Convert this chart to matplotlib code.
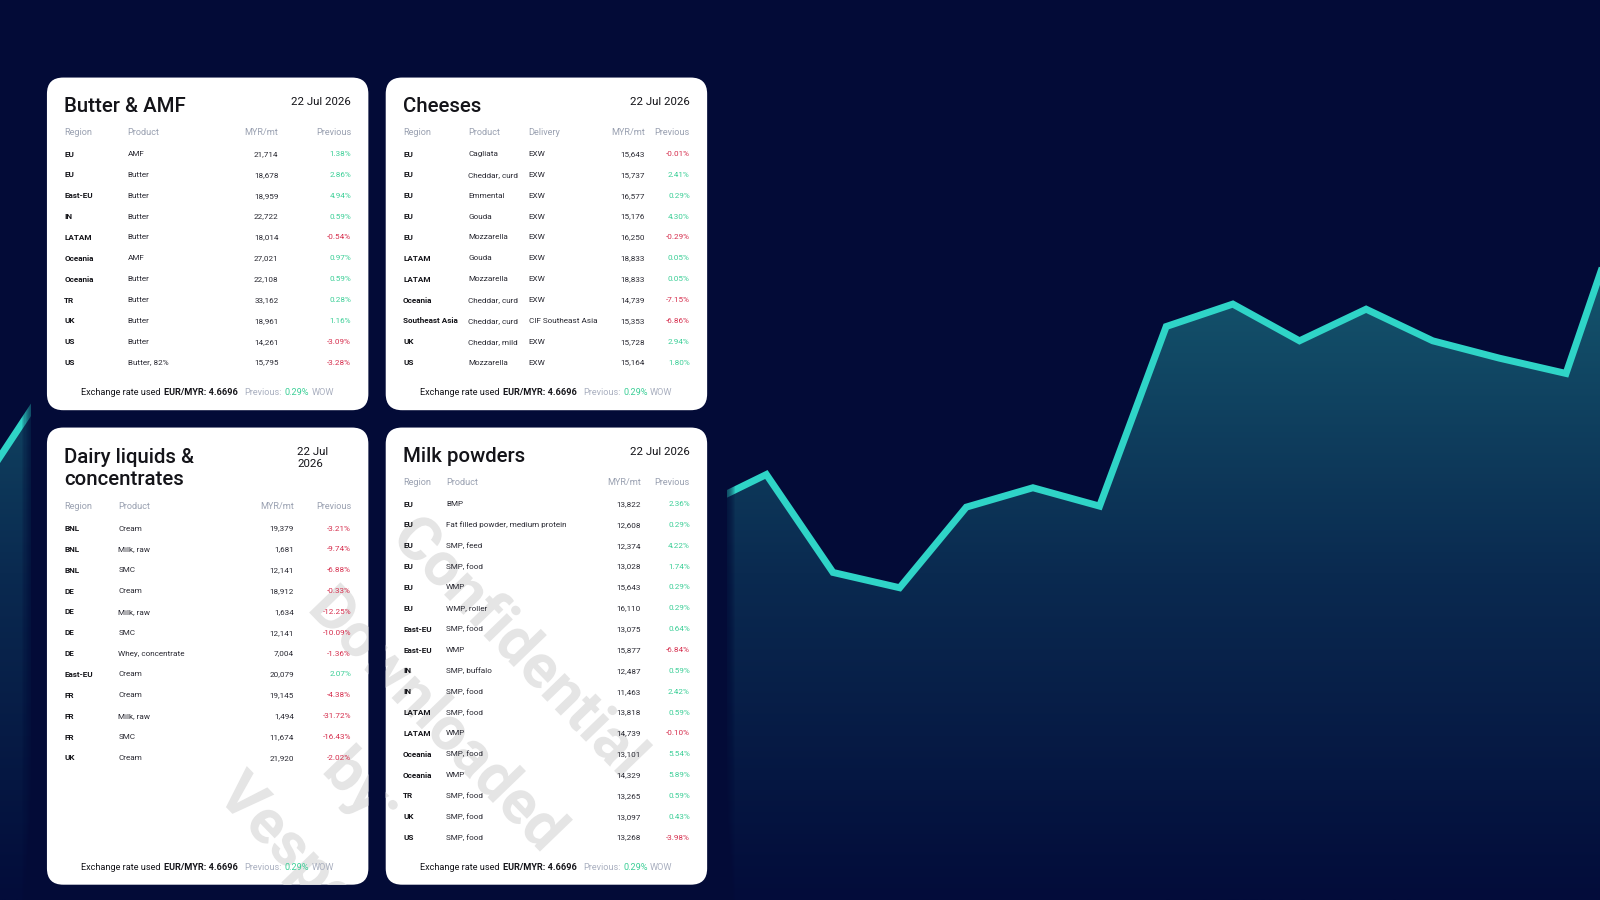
import numpy as np
import matplotlib.pyplot as plt
from matplotlib.patches import FancyBboxPatch, Polygon, Rectangle, PathPatch
from matplotlib.colors import LinearSegmentedColormap
from matplotlib.textpath import TextPath
from matplotlib.font_manager import FontProperties
from matplotlib.transforms import Affine2D

plt.rcParams['font.family'] = ['Roboto', 'DejaVu Sans']

BG = '#030b37'
TEAL = '#2fd4c7'
GREEN = '#3ccf97'
RED = '#d62f4e'
GREY = '#9aa1b1'
LIGHT = '#aab0c0'
INK = '#141419'

DATE = '22 Jul 2026'
FX_RATE = 4.6696
FX_CHANGE = 0.29

# background trend (hidden stretch behind the cards left as NaN)
trend_idx = np.arange(26)
trend_vals = [385, 484] + [np.nan] * 9 + [385, 417, 321, 306, 385, 404, 386, 562,
                                          584, 548, 579, 548, 531, 516, 707]

butter_regions = ['EU', 'EU', 'East-EU', 'IN', 'LATAM', 'Oceania', 'Oceania', 'TR', 'UK', 'US', 'US']
butter_products = ['AMF', 'Butter', 'Butter', 'Butter', 'Butter', 'AMF', 'Butter', 'Butter',
                   'Butter', 'Butter', 'Butter, 82%']
butter_prices = [21714, 18678, 18959, 22722, 18014, 27021, 22108, 33162, 18961, 14261, 15795]
butter_changes = [1.38, 2.86, 4.94, 0.59, -0.54, 0.97, 0.59, 0.28, 1.16, -3.09, -3.28]

cheese_regions = ['EU', 'EU', 'EU', 'EU', 'EU', 'LATAM', 'LATAM', 'Oceania', 'Southeast Asia', 'UK', 'US']
cheese_products = ['Cagliata', 'Cheddar, curd', 'Emmental', 'Gouda', 'Mozzarella', 'Gouda',
                   'Mozzarella', 'Cheddar, curd', 'Cheddar, curd', 'Cheddar, mild', 'Mozzarella']
cheese_delivery = ['EXW'] * 8 + ['CIF Southeast Asia', 'EXW', 'EXW']
cheese_prices = [15643, 15737, 16577, 15176, 16250, 18833, 18833, 14739, 15353, 15728, 15164]
cheese_changes = [-0.01, 2.41, 0.29, 4.30, -0.29, 0.05, 0.05, -7.15, -6.86, 2.94, 1.80]

liquid_regions = ['BNL', 'BNL', 'BNL', 'DE', 'DE', 'DE', 'DE', 'East-EU', 'FR', 'FR', 'FR', 'UK']
liquid_products = ['Cream', 'Milk, raw', 'SMC', 'Cream', 'Milk, raw', 'SMC', 'Whey, concentrate',
                   'Cream', 'Cream', 'Milk, raw', 'SMC', 'Cream']
liquid_prices = [19379, 1681, 12141, 18912, 1634, 12141, 7004, 20079, 19145, 1494, 11674, 21920]
liquid_changes = [-3.21, -9.74, -6.88, -0.33, -12.25, -10.09, -1.36, 2.07, -4.38, -31.72, -16.43, -2.02]

powder_regions = ['EU'] * 6 + ['East-EU', 'East-EU', 'IN', 'IN', 'LATAM', 'LATAM',
                               'Oceania', 'Oceania', 'TR', 'UK', 'US']
powder_products = ['BMP', 'Fat filled powder, medium protein', 'SMP, feed', 'SMP, food', 'WMP',
                   'WMP, roller', 'SMP, food', 'WMP', 'SMP, buffalo', 'SMP, food', 'SMP, food',
                   'WMP', 'SMP, food', 'WMP', 'SMP, food', 'SMP, food', 'SMP, food']
powder_prices = [13822, 12608, 12374, 13028, 15643, 16110, 13075, 15877, 12487, 11463, 13818,
                 14739, 13101, 14329, 13265, 13097, 13268]
powder_changes = [2.36, 0.29, 4.22, 1.74, 0.29, 0.29, 0.64, -6.84, 0.59, 2.42, 0.59, -0.10,
                  5.54, 5.89, 0.59, 0.43, -3.98]

watermark_lines = ['Confidential', 'Downloaded', 'by:', 'Vesper']

W, H = 1568, 882
ROW_STEP = 20.43

fig = plt.figure(figsize=(16, 9), dpi=100)
fig.patch.set_facecolor(BG)

# ---- background area chart ----
axc = fig.add_axes([0, 0, 1, 1], zorder=0)
vals = np.array(trend_vals, float)
ok = ~np.isnan(vals)
good = trend_idx[ok]
runs = np.split(good, np.where(np.diff(good) > 1)[0] + 1)
cmap = LinearSegmentedColormap.from_list('fill', ['#030c3a', '#0a2a50', '#15586f'])
grad = np.linspace(0, 1, 256).reshape(-1, 1)
for run in runs:
    xs = trend_idx[run]
    ys = vals[run]
    verts = [(xs[0], 0)] + list(zip(xs, ys)) + [(xs[-1], 0)]
    poly = Polygon(verts, closed=True, facecolor='none', edgecolor='none')
    axc.add_patch(poly)
    im = axc.imshow(grad, extent=(xs[0], xs[-1], 0, 640), origin='lower',
                    aspect='auto', cmap=cmap, zorder=1)
    im.set_clip_path(poly)
axc.plot(trend_idx, vals, color=TEAL, lw=5, solid_joinstyle='miter', zorder=3)
axc.set_xlim(0.499, 24.51)
axc.set_ylim(0, 882)
axc.axis('off')

# ---- card layer ----
ax = fig.add_axes([0, 0, 1, 1], zorder=1)
ax.set_xlim(0, W)
ax.set_ylim(H, 0)
ax.axis('off')

# dark panel behind the cards with soft edge
for s in range(8, 0, -1):
    ax.add_patch(Rectangle((30 - s, 52 - s), 682 + 2 * s, 900, facecolor=BG,
                           edgecolor='none', alpha=0.12, zorder=1))
ax.add_patch(Rectangle((30, 52), 682, 900, facecolor=BG, edgecolor='none', zorder=1))

footers = []


def footer(cx, y):
    parts = [('Exchange rate used', INK, 'normal', 0),
             (f'EUR/MYR: {FX_RATE:.4f}', INK, 'bold', 2.3),
             ('Previous:', LIGHT, 'normal', 4.5),
             (f'{FX_CHANGE:.2f}%', GREEN, 'normal', 1.9),
             ('WOW', LIGHT, 'normal', 1.9)]
    first = ax.text(cx, y, parts[0][0], fontsize=6.6, color=INK, ha='left', va='center', zorder=4)
    items = [first]
    for s, c, wgt, gap in parts[1:]:
        t = ax.annotate(s, xy=(1, 0), xycoords=items[-1], xytext=(gap, 0),
                        textcoords='offset points', ha='left', va='bottom',
                        fontsize=6.6, color=c, fontweight=wgt, zorder=4)
        items.append(t)
    footers.append((cx, items))


def draw_card(box, title, title_y, date_text, date_x, date_y, date_ha,
              head_y, row_y0, foot_y, columns):
    x0, y0, w, h = box
    patch = FancyBboxPatch((x0, y0), w, h, boxstyle='round,pad=0,rounding_size=16',
                           facecolor='white', edgecolor='none', zorder=2)
    ax.add_patch(patch)
    ax.text(x0 + 17, title_y, title, fontsize=14.7, fontweight='medium', color=INK,
            ha='left', va='center', linespacing=1.2, zorder=4)
    ax.text(date_x, date_y, date_text, fontsize=8.2, color=INK, ha=date_ha, va='center',
            linespacing=1.25, zorder=4)
    for label, cx, ha, values, kind in columns:
        ax.text(cx, head_y, label, fontsize=6.6, color=GREY, ha=ha, va='center', zorder=4)
        for i, v in enumerate(values):
            y = row_y0 + i * ROW_STEP
            if kind == 'region':
                ax.text(cx, y, v, fontsize=5.9, fontweight='bold', color=INK, ha=ha,
                        va='center', zorder=4)
            elif kind == 'change':
                ax.text(cx, y, f'{v:.2f}%', fontsize=5.9, color=GREEN if v >= 0 else RED,
                        ha=ha, va='center', zorder=4)
            elif kind == 'price':
                ax.text(cx, y, f'{v:,}', fontsize=5.9, color='#2a2a33', ha=ha,
                        va='center', zorder=4)
            else:
                ax.text(cx, y, v, fontsize=5.9, color='#2a2a33', ha=ha, va='center', zorder=4)
    footer(x0 + w / 2, foot_y)
    return patch


draw_card((46, 76, 315, 326), 'Butter & AMF', 104, DATE, 344, 100, 'right', 130, 151, 385,
          [('Region', 63, 'left', butter_regions, 'region'),
           ('Product', 125, 'left', butter_products, 'text'),
           ('MYR/mt', 273, 'right', butter_prices, 'price'),
           ('Previous', 344, 'right', butter_changes, 'change')])

draw_card((378, 76, 315, 326), 'Cheeses', 104, DATE, 676, 100, 'right', 130, 151, 385,
          [('Region', 395, 'left', cheese_regions, 'region'),
           ('Product', 459, 'left', cheese_products, 'text'),
           ('Delivery', 518, 'left', cheese_delivery, 'text'),
           ('MYR/mt', 632, 'right', cheese_prices, 'price'),
           ('Previous', 676, 'right', cheese_changes, 'change')])

card3 = draw_card((46, 419, 315, 448), 'Dairy liquids &\nconcentrates', 459,
                  DATE.replace(' 2026', '\n2026'), 291, 449, 'left', 496, 518, 850,
                  [('Region', 63, 'left', liquid_regions, 'region'),
                   ('Product', 116, 'left', liquid_products, 'text'),
                   ('MYR/mt', 288, 'right', liquid_prices, 'price'),
                   ('Previous', 344, 'right', liquid_changes, 'change')])

card4 = draw_card((378, 419, 315, 448), 'Milk powders', 447, DATE, 676, 443, 'right', 473, 494, 850,
                  [('Region', 395, 'left', powder_regions, 'region'),
                   ('Product', 437, 'left', powder_products, 'text'),
                   ('MYR/mt', 628, 'right', powder_prices, 'price'),
                   ('Previous', 676, 'right', powder_changes, 'change')])

# watermark, clipped to the lower cards
wm_prop = FontProperties(family='Roboto', weight='bold')
wm_centers = [(512, 630), (432, 702), (354, 774), (288, 838)]
for line, (cx, cy) in zip(watermark_lines, wm_centers):
    tp = TextPath((0, 0), line, size=60, prop=wm_prop)
    bb = tp.get_extents()
    tr = (Affine2D().translate(-(bb.x0 + bb.x1) / 2, -(bb.y0 + bb.y1) / 2)
          .scale(1, -1).rotate_deg(46).translate(cx, cy))
    for card in (card3, card4):
        pp = PathPatch(tr.transform_path(tp), facecolor='#e5e5e5', edgecolor='none',
                       zorder=3)
        ax.add_patch(pp)
        pp.set_clip_path(card)

# centre the mixed-style footer lines
fig.canvas.draw()
r = fig.canvas.get_renderer()
for cx, items in footers:
    width_px = items[-1].get_window_extent(r).x1 - items[0].get_window_extent(r).x0
    items[0].set_x(cx - width_px * W / 1600 / 2)

fig.savefig('out.png', dpi=100, facecolor=BG)
